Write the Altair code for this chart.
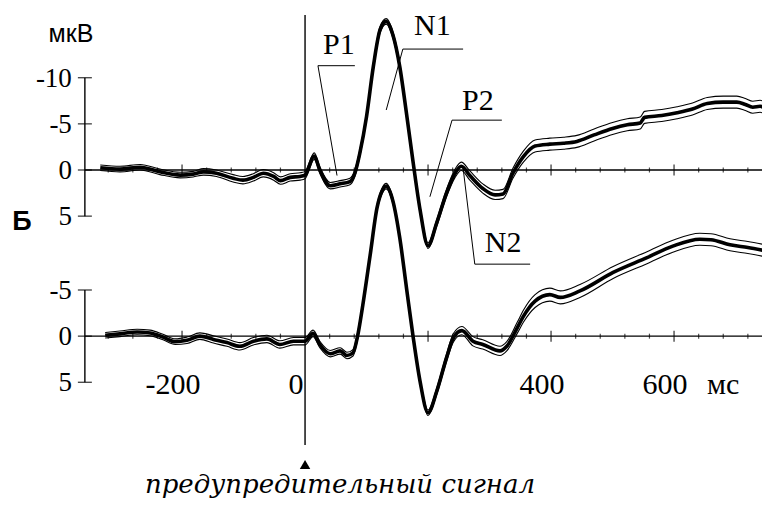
import altair as alt
import pandas as pd

# ---------------- data (ms, microvolts; negative is up) -------------
t_upper = [-333, -301, -268, -236, -203, -182, -165, -144, -117, -101, -84, -68, -51, -40, -24, -8,
           0, 15, 24, 41, 57, 73, 81, 89, 100, 111, 122, 132, 143, 154, 165, 176, 187, 200, 214,
           230, 244, 254, 268, 289, 309, 322, 338, 355, 374, 398, 420, 442, 470, 500, 524, 545,
           552, 580, 605, 630, 654, 680, 702, 716, 728, 740, 751]
v_upper = [-0.25, -0.1, -0.3, 0.2, 0.55, 0.45, 0.2, 0.35, 0.9, 1.1, 0.8, 0.35, 0.7, 1.15, 0.8, 0.7,
           0.55, -1.5, 0.0, 1.7, 1.5, 1.25, 0.35, -1.8, -5.8, -11.2, -15.2, -16.1, -14.6, -11.2, -6.1,
           -0.7, 4.3, 8.2, 5.75, 2.5, 0.35, -0.4, 0.6, 2.0, 2.7, 2.6, 0.35, -1.45, -2.6, -2.8, -2.9,
           -3.1, -3.8, -4.5, -4.9, -5.1, -5.7, -5.9, -6.2, -6.6, -7.2, -7.35, -7.35, -7.1, -6.8,
           -6.9, -6.5]
se_upper = [0.3, 0.3, 0.3, 0.3, 0.3, 0.3, 0.35, 0.35, 0.4, 0.4, 0.4, 0.4, 0.4, 0.4, 0.4, 0.4,
            0.4, 0.35, 0.35, 0.35, 0.35, 0.35, 0.35, 0.35, 0.35, 0.35, 0.35, 0.3, 0.35, 0.35, 0.35,
            0.35, 0.35, 0.3, 0.35, 0.4, 0.45, 0.45, 0.5, 0.5, 0.5, 0.5, 0.55, 0.6, 0.65, 0.65, 0.65,
            0.65, 0.65, 0.65, 0.65, 0.65, 0.65, 0.65, 0.65, 0.65, 0.65, 0.65, 0.65, 0.65, 0.65,
            0.65, 0.65]

t_lower = [-325, -301, -273, -252, -231, -211, -192, -171, -149, -127, -106, -84, -62, -41, -19,
           0, 13, 24, 41, 57, 68, 78, 86, 94, 106, 117, 125, 132, 143, 154, 165, 176, 187, 200,
           214, 230, 241, 255, 273, 289, 317, 328, 345, 355, 374, 398, 415, 447, 501, 556, 598,
           642, 660, 691, 720, 745]
v_lower = [-0.1, -0.25, -0.45, -0.35, 0.1, 0.6, 0.45, 0.0, 0.35, 0.7, 1.1, 0.55, 0.3, 0.9, 0.55,
           0.55, -0.3, 0.9, 1.9, 1.6, 2.1, 1.8, -0.2, -3.4, -8.85, -13.9, -15.7, -16.25, -14.6,
           -10.65, -5.2, 0.2, 4.9, 8.3, 6.0, 2.35, 0.2, -0.6, 0.55, 0.9, 1.6, 1.1, -0.9, -2.15,
           -3.8, -4.5, -4.2, -4.9, -6.9, -8.5, -9.75, -10.5, -10.45, -9.9, -9.6, -9.3]
se_lower = [0.3, 0.3, 0.3, 0.3, 0.3, 0.3, 0.35, 0.35, 0.4, 0.4, 0.4, 0.4, 0.4, 0.4, 0.4,
            0.4, 0.35, 0.35, 0.35, 0.35, 0.35, 0.35, 0.35, 0.35, 0.3, 0.3, 0.3, 0.3, 0.3,
            0.3, 0.3, 0.3, 0.3, 0.3, 0.35, 0.4, 0.45, 0.45, 0.5, 0.5, 0.5, 0.5, 0.6, 0.65,
            0.7, 0.7, 0.7, 0.7, 0.65, 0.65, 0.65, 0.65, 0.65, 0.65, 0.65, 0.65]

y_ticks_upper = [-10, -5, 0, 5]
y_labels_upper = ["-10", "-5", "0", "5"]
y_ticks_lower = [-5, 0, 5]
y_labels_lower = ["-5", "0", "5"]
x_tick_values = [-200, 0, 400, 600]
x_tick_labels = ["-200", "0", "400", "600"]
axis_ticks_ms = list(range(-320, 721, 40))

peak_names = ["P1", "N1", "P2", "N2"]
peak_label_t = [55, 207, 281, 322]
peak_label_v = [-13.5, -15.6, -7.5, 7.9]
# leader lines: corner, end of the horizontal stroke, and the point on the curve
lead_corner_t = [21, 159, 239, 276]
lead_corner_v = [-11.3, -13.1, -5.4, 10.2]
lead_end_t = [81, 257, 320, 366]
lead_target_t = [52, 132, 203, 257]
lead_target_v = [0.6, -6.5, 2.9, -0.2]

# ---------------- layout ----------------
OFF = 18          # vertical offset of the lower trace (µV units)
AX = -358         # x position (ms) of the vertical amplitude axes
X_END = 760
XLAB_Y = 23.3
SERIF = "Liberation Serif, Times New Roman, DejaVu Serif, serif"

xs = alt.Scale(domain=[-483, 743], nice=False, zero=False)
ys = alt.Scale(domain=[-17.55, 35.75], reverse=True, nice=False, zero=False)


def ex(f):
    return alt.X(f"{f}:Q", scale=xs, axis=None)


def ey(f):
    return alt.Y(f"{f}:Q", scale=ys, axis=None)


du = pd.DataFrame({"t": t_upper, "v": v_upper, "se": se_upper, "trace": "upper", "off": 0})
dl = pd.DataFrame({"t": t_lower, "v": v_lower, "se": se_lower, "trace": "lower", "off": OFF})
d = pd.concat([du, dl], ignore_index=True)
d["pos"] = d["v"] + d["off"]
d["lo"] = d["pos"] - d["se"]
d["hi"] = d["pos"] + d["se"]

layers = []

# horizontal zero lines
zl = pd.DataFrame({"x": [AX, AX], "x2": [X_END, X_END], "y": [0, OFF]})
layers.append(alt.Chart(zl).mark_rule(color="black", strokeWidth=1.4).encode(
    x=ex("x"), x2="x2:Q", y=ey("y")))

# ticks on the zero lines
tk = pd.DataFrame([{"t": t, "y": y, "major": t % 200 == 0}
                   for t in axis_ticks_ms for y in (0, OFF) if t != 0])
layers.append(alt.Chart(tk[~tk["major"]]).mark_tick(
    orient="vertical", size=5, thickness=1.2, color="black").encode(x=ex("t"), y=ey("y")))
layers.append(alt.Chart(tk[tk["major"]]).mark_tick(
    orient="vertical", size=11, thickness=1.4, color="black").encode(x=ex("t"), y=ey("y")))

# vertical amplitude axes
yl = pd.DataFrame({"x": [AX, AX],
                   "y": [min(y_ticks_upper), min(y_ticks_lower) + OFF],
                   "y2": [max(y_ticks_upper), max(y_ticks_lower) + OFF]})
layers.append(alt.Chart(yl).mark_rule(color="black", strokeWidth=1.4).encode(
    x=ex("x"), y=ey("y"), y2="y2:Q"))
yt = pd.DataFrame({"x": AX,
                   "y": [v for v in y_ticks_upper] + [v + OFF for v in y_ticks_lower],
                   "label": y_labels_upper + y_labels_lower})
layers.append(alt.Chart(yt).mark_tick(orient="horizontal", size=14, thickness=1.4,
                                      color="black").encode(x=ex("x"), y=ey("y")))
layers.append(alt.Chart(yt).mark_text(align="right", baseline="middle", dx=-13, dy=1,
                                      font=SERIF, fontSize=27, color="black").encode(
    x=ex("x"), y=ey("y"), text="label:N"))

# x tick labels
xl = pd.DataFrame({"t": x_tick_values, "y": XLAB_Y, "label": x_tick_labels})
layers.append(alt.Chart(xl).mark_text(align="center", baseline="middle", dx=-9,
                                      font=SERIF, fontSize=30, color="black").encode(
    x=ex("t"), y=ey("y"), text="label:N"))
layers.append(alt.Chart(pd.DataFrame({"t": [680], "y": [XLAB_Y], "label": ["мс"]})).mark_text(
    align="center", baseline="middle", font=SERIF, fontSize=30, color="black").encode(
    x=ex("t"), y=ey("y"), text="label:N"))

# stimulus marker line and triangle
layers.append(alt.Chart(pd.DataFrame({"x": [0], "y": [-16.8], "y2": [29.8]})).mark_rule(
    color="black", strokeWidth=1.4).encode(x=ex("x"), y=ey("y"), y2="y2:Q"))
layers.append(alt.Chart(pd.DataFrame({"x": [0], "y": [31.9]})).mark_point(
    shape="triangle-up", filled=True, size=110, color="black", opacity=1).encode(
    x=ex("x"), y=ey("y")))

# traces: envelope lines then the thick mean line
for fld, w in (("lo", 1.1), ("hi", 1.1), ("pos", 3.6)):
    layers.append(alt.Chart(d).mark_line(color="black", strokeWidth=w, interpolate="monotone",
                                         strokeJoin="round").encode(
        x=ex("t"), y=ey(fld), detail="trace:N", order="t:Q"))

# peak leader lines
segs = []
for i in range(len(peak_names)):
    segs.append({"x": lead_corner_t[i], "y": lead_corner_v[i],
                 "x2": lead_end_t[i], "y2": lead_corner_v[i]})
    segs.append({"x": lead_corner_t[i], "y": lead_corner_v[i],
                 "x2": lead_target_t[i], "y2": lead_target_v[i]})
layers.append(alt.Chart(pd.DataFrame(segs)).mark_rule(color="black", strokeWidth=1).encode(
    x=ex("x"), y=ey("y"), x2="x2:Q", y2="y2:Q"))
pk = pd.DataFrame({"t": peak_label_t, "v": peak_label_v, "label": peak_names})
layers.append(alt.Chart(pk).mark_text(align="center", baseline="middle", font=SERIF,
                                      fontSize=30, color="black").encode(
    x=ex("t"), y=ey("v"), text="label:N"))

# unit and panel captions
layers.append(alt.Chart(pd.DataFrame({"label": ["мкВ"]})).mark_text(
    align="center", baseline="middle", font="Liberation Sans", fontSize=25, color="black").encode(
    x=alt.value(63), y=alt.value(26), text="label:N"))
layers.append(alt.Chart(pd.DataFrame({"label": ["Б"]})).mark_text(
    align="center", baseline="middle", font="Liberation Sans", fontWeight="bold", fontSize=27,
    color="black").encode(x=alt.value(14), y=alt.value(214), text="label:N"))
layers.append(alt.Chart(pd.DataFrame({"label": ["предупредительный сигнал"]})).mark_text(
    align="center", baseline="alphabetic", font="DejaVu Serif", fontStyle="italic",
    fontSize=26, color="black").encode(x=alt.value(332), y=alt.value(485), text="label:N"))

chart = alt.layer(*layers).properties(
    width=754, height=492, autosize=alt.AutoSizeParams(type="none"), padding=0,
    background="white"
).configure_view(stroke=None)

chart.save("out.html", embed_options={"renderer": "svg", "actions": False})
